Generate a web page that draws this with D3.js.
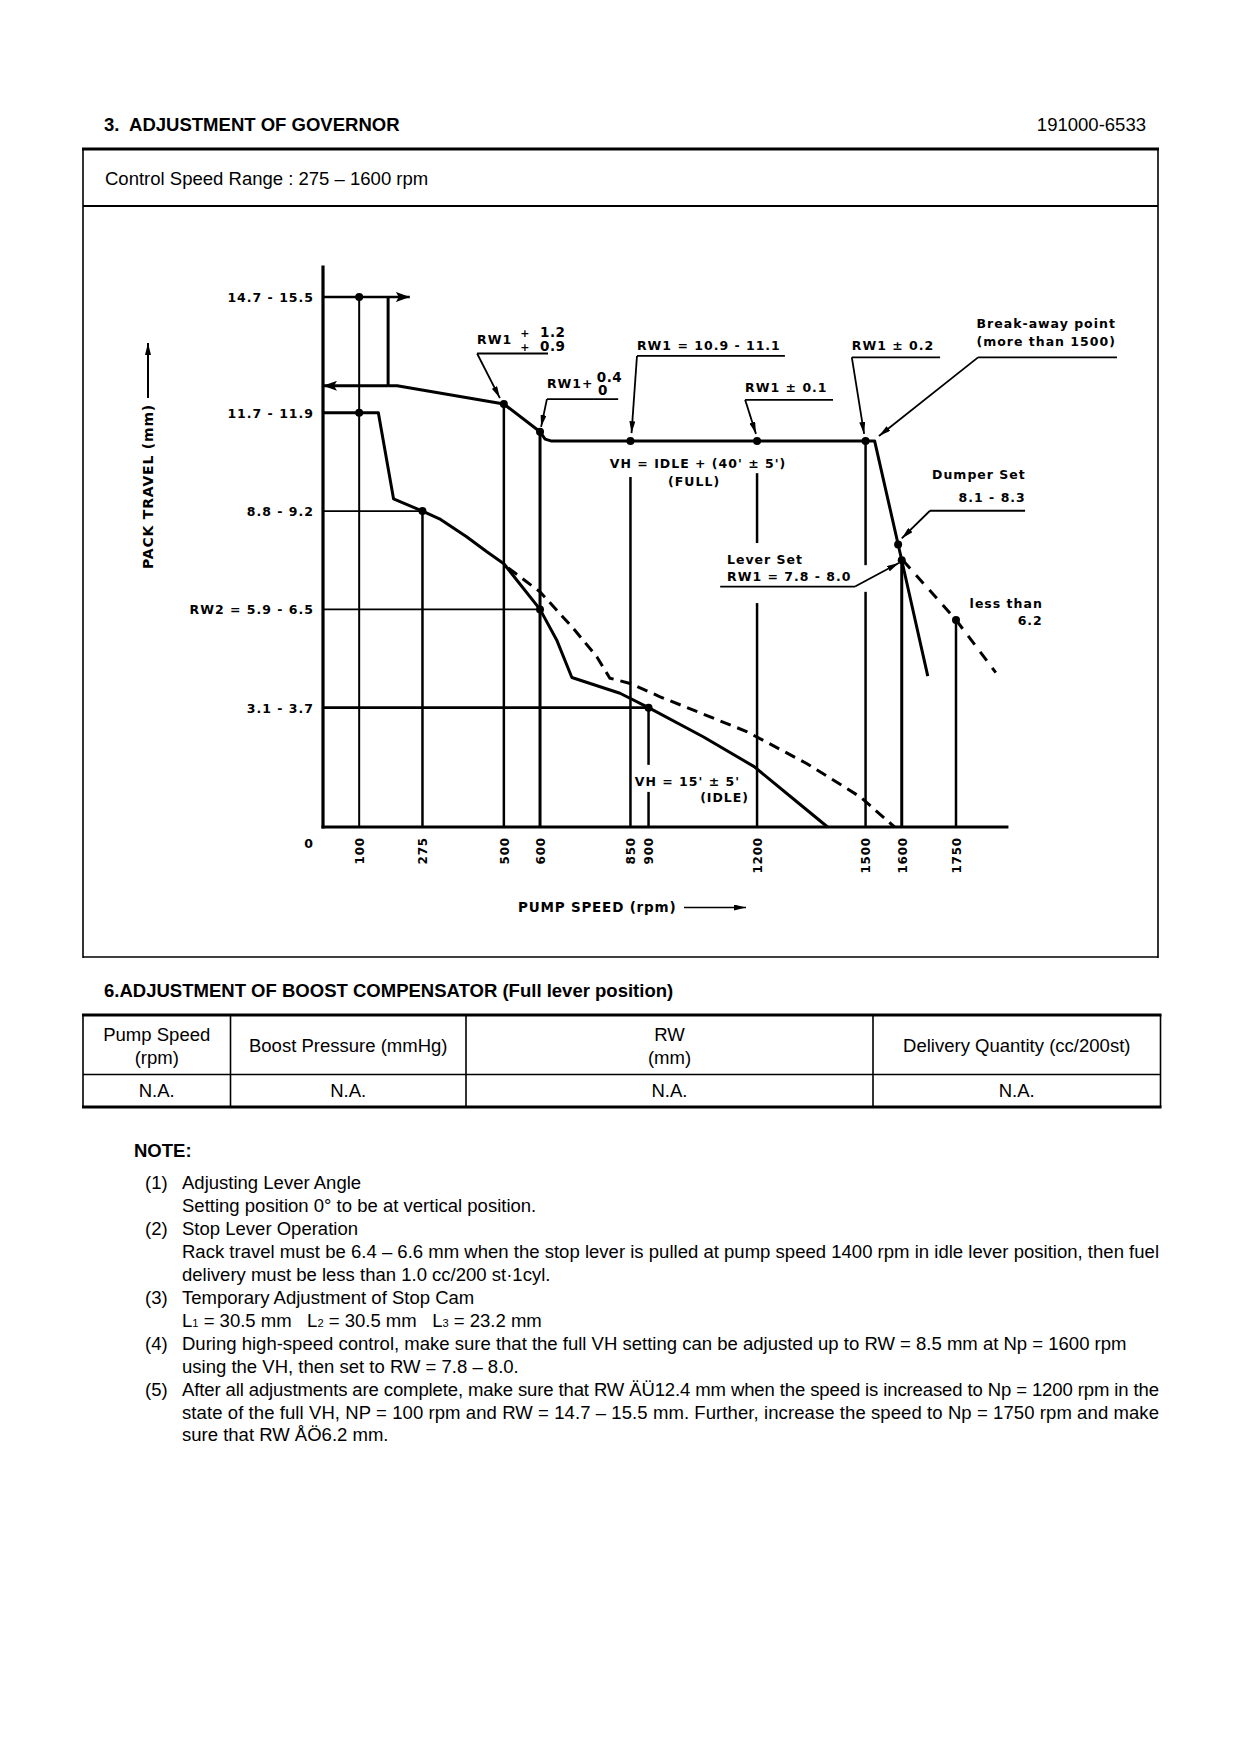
<!DOCTYPE html>
<html><head><meta charset="utf-8">
<script src="https://cdn.jsdelivr.net/npm/d3@7/dist/d3.min.js"></script>
<style>
body{margin:0;background:#fff}
svg{display:block}
.ch{font-family:"DejaVu Sans",Verdana,sans-serif;font-weight:bold;font-size:12.5px;letter-spacing:1px;fill:#000}
.xt{font-family:"DejaVu Sans",Verdana,sans-serif;font-weight:bold;font-size:12px;letter-spacing:0.8px;fill:#000}
.ti{font-family:"DejaVu Sans",Verdana,sans-serif;font-weight:bold;font-size:14px;letter-spacing:0.8px;fill:#000}
</style></head><body>
<script>
// ---------------- DATA ----------------
const xTickValues = [100, 275, 500, 600, 850, 900, 1200, 1500, 1600, 1750];
const yTickValues = [15.1, 11.8, 9.0, 6.2, 3.4, 0];
const yTickLabels = ["14.7 - 15.5", "11.7 - 11.9", "8.8 - 9.2", "RW2 = 5.9 - 6.5", "3.1 - 3.7", "0"];
const xAxisEnd = 1895;
const yAxisTop = 16;

// start (max rack) position line with arrow to the right
const startRackLine = [[0, 15.1], [240, 15.1]];
// stop step from start level down to full lever level
const stopStep = [[180, 15.1], [180, 12.57]];
// return line to the axis (arrow pointing left)
const returnLine = [[180, 12.57], [0, 12.57]];
// full lever (VH full) characteristic
const fullLeverCurve = [[180, 12.57], [205, 12.57], [500, 12.05], [600, 11.26], [614, 11.05], [630, 11.0],
  [1525, 11.0], [1600, 7.6], [1672, 4.3]];
// idle characteristic (solid)
const idleCurve = [[0, 11.8], [153, 11.8], [195, 9.35], [275, 9.0], [322, 8.78], [397, 8.27], [453, 7.84],
  [500, 7.5], [600, 6.2], [646, 5.33], [688, 4.26], [821, 3.81], [900, 3.4], [1051, 2.57], [1192, 1.72],
  [1310, 0.72], [1395, 0]];
// idle characteristic (dashed)
const idleDashed = [[512, 7.38], [600, 6.7], [692, 5.66], [757, 4.85], [793, 4.24], [849, 4.09], [932, 3.71],
  [1171, 2.72], [1337, 1.81], [1485, 0.86], [1580, 0]];
// high-speed dashed
const highDashed = [[1603, 7.6], [1750, 5.9], [1860, 4.4]];

// horizontal reference lines: [mm, rpm end]
const hRefs = [[9.0, 275], [6.2, 600], [3.4, 900]];
// vertical reference segments: [rpm, mm from, mm to]
const vRefs = [[100, 0, 15.1], [275, 0, 9.0], [500, 0, 12.05], [600, 0, 11.26], [850, 0, 9.97],
  [900, 0, 1.0], [900, 1.77, 3.4], [1200, 0, 6.38], [1200, 8.09, 10.08], [1500, 0, 6.7], [1500, 7.46, 11.0],
  [1600, 0, 7.6], [1750, 0, 5.9]];
// marked points
const points = [[100, 15.1], [100, 11.8], [275, 9.0], [500, 12.05], [600, 11.26], [600, 6.2], [900, 3.4],
  [850, 11.0], [1200, 11.0], [1500, 11.0], [1590, 8.05], [1600, 7.6], [1750, 5.9]];

// annotation texts: [text, rpm, mm, anchor]
const annTexts = [
  ["RW1", 426, 13.75, "start"],
  ["RW1+", 619, 12.52, "start"],
  ["RW1 = 10.9 - 11.1", 868, 13.6, "start"],
  ["RW1 ± 0.1", 1167, 12.39, "start"],
  ["RW1 ± 0.2", 1462, 13.6, "start"],
  ["Break-away point", 2192, 14.22, "end"],
  ["(more than 1500)", 2192, 13.70, "end"],
  ["Dumper Set", 1943, 9.91, "end"],
  ["8.1 - 8.3", 1943, 9.26, "end"],
  ["Lever Set", 1117, 7.49, "start"],
  ["RW1 = 7.8 - 8.0", 1117, 7.01, "start"],
  ["less than", 1990, 6.24, "end"],
  ["6.2", 1990, 5.75, "end"],
  ["VH = IDLE + (40' ± 5')", 793, 10.23, "start"],
  ["(FULL)", 954, 9.72, "start"],
  ["VH = 15' ± 5'", 862, 1.17, "start"],
  ["(IDLE)", 1178, 0.70, "end"]
];
// tolerance stacks: [text, rpm, mm]
const tolTexts = [["+", 545, 13.96], ["+", 545, 13.56], ["1.2", 600, 13.96], ["0.9", 600, 13.56],
  ["0.4", 757, 12.69], ["0", 760, 12.32]];
// underlines: [mm, rpm from, rpm to]
const underlines = [[13.49, 426, 622], [12.19, 619, 816], [13.42, 868, 1277], [12.17, 1167, 1410],
  [13.38, 1462, 1706], [13.38, 1811, 2195], [9.01, 1678, 1941], [6.85, 1098, 1471]];
// leader arrows (paths ending at the arrow tip)
const leaders = [
  [[426, 13.49], [489, 12.22]],
  [[619, 12.19], [603, 11.4]],
  [[868, 13.42], [853, 11.22]],
  [[1167, 12.17], [1197, 11.2]],
  [[1462, 13.38], [1496, 11.2]],
  [[1811, 13.38], [1537, 11.14]],
  [[1678, 9.01], [1600, 8.22]],
  [[1471, 6.85], [1592, 7.52]]
];

const tableHeaders = [["Pump Speed", "(rpm)"], ["Boost Pressure (mmHg)"], ["RW", "(mm)"], ["Delivery Quantity (cc/200st)"]];
const tableValues = ["N.A.", "N.A.", "N.A.", "N.A."];

const notes = [
  ["(1)", "Adjusting Lever Angle", 0],
  ["", "Setting position 0° to be at vertical position.", 0],
  ["(2)", "Stop Lever Operation", 0],
  ["", "Rack travel must be 6.4 – 6.6 mm when the stop lever is pulled at pump speed 1400 rpm in idle lever position, then fuel", 1],
  ["", "delivery must be less than 1.0 cc/200 st·1cyl.", 0],
  ["(3)", "Temporary Adjustment of Stop Cam", 0],
  ["", "L", 2],
  ["(4)", "During high-speed control, make sure that the full VH setting can be adjusted up to RW = 8.5 mm at Np = 1600 rpm", 0],
  ["", "using the VH, then set to RW = 7.8 – 8.0.", 0],
  ["(5)", "After all adjustments are complete, make sure that RW ÄÜ12.4 mm when the speed is increased to Np = 1200 rpm in the", 1],
  ["", "state of the full VH, NP = 100 rpm and RW = 14.7 – 15.5 mm. Further, increase the speed to Np = 1750 rpm and make", 1],
  ["", "sure that RW ÅÖ6.2 mm.", 0]
];
const camLengths = [["1", "30.5"], ["2", "30.5"], ["3", "23.2"]];

// ---------------- DRAW ----------------
const W = 1240, H = 1754;
const svg = d3.select("body").append("svg").attr("width", W).attr("height", H);
svg.append("rect").attr("width", W).attr("height", H).attr("fill", "#fff");

const pageFont = '"Liberation Sans", Arial, Helvetica, sans-serif';
// calibrate page font size on the justified reference line
const probe = svg.append("text").style("font-family", pageFont).style("font-size", "18px").text(notes[3][1]);
const natural = probe.node().getComputedTextLength();
probe.remove();
let fs = 18 * 976 / natural;
fs = Math.max(15, Math.min(20, fs));

function ptext(t, px, py, opts = {}) {
  const el = svg.append("text").attr("x", px).attr("y", py)
    .style("font-family", pageFont).style("font-size", (opts.size || fs) + "px")
    .style("white-space", "pre").attr("fill", "#000")
    .attr("text-anchor", opts.anchor || "start").text(t);
  if (opts.bold) el.style("font-weight", "bold");
  return el;
}
function hline(x1, x2, yy, w) { svg.append("line").attr("x1", x1).attr("x2", x2).attr("y1", yy).attr("y2", yy).attr("stroke", "#000").attr("stroke-width", w); }
function vline(xx, y1, y2, w) { svg.append("line").attr("x1", xx).attr("x2", xx).attr("y1", y1).attr("y2", y2).attr("stroke", "#000").attr("stroke-width", w); }

// header
ptext("3.  ADJUSTMENT OF GOVERNOR", 104, 131, { bold: true });
ptext("191000-6533", 1146, 131, { anchor: "end" });

// governor box
hline(82, 1159, 149, 3);
hline(83, 1158, 206, 2);
hline(83, 1158, 957, 1.6);
vline(83, 148, 958, 1.6);
vline(1158, 148, 958, 1.6);
ptext("Control Speed Range : 275 – 1600 rpm", 105, 185);

// markers
const defs = svg.append("defs");
defs.append("marker").attr("id", "arr").attr("viewBox", "0 0 12 6").attr("refX", 12).attr("refY", 3)
  .attr("markerWidth", 12).attr("markerHeight", 6).attr("markerUnits", "userSpaceOnUse").attr("orient", "auto")
  .append("path").attr("d", "M0,0L12,3L0,6Z").attr("fill", "#000");
defs.append("marker").attr("id", "arrBig").attr("viewBox", "0 0 14 10").attr("refX", 14).attr("refY", 5)
  .attr("markerWidth", 14).attr("markerHeight", 10).attr("markerUnits", "userSpaceOnUse").attr("orient", "auto")
  .append("path").attr("d", "M0,0L14,5L0,10L3,5Z").attr("fill", "#000");

// scales
const x = d3.scaleLinear().domain([0, 1750]).range([323, 956]);
const y = d3.scaleLinear().domain([0, 16]).range([827, 265.4]);
const line = d3.line().x(d => x(d[0])).y(d => y(d[1]));

const g = svg.append("g");

// reference lines
hRefs.forEach(d => g.append("line").attr("x1", x(0)).attr("x2", x(d[1])).attr("y1", y(d[0])).attr("y2", y(d[0]))
  .attr("stroke", "#000").attr("stroke-width", d[0] === 3.4 ? 2.6 : 1.8));
vRefs.forEach(d => g.append("line").attr("x1", x(d[0])).attr("x2", x(d[0])).attr("y1", y(d[1])).attr("y2", y(d[2]))
  .attr("stroke", "#000").attr("stroke-width", d[0] === 100 ? 2 : (d[0] === 600 || d[0] === 1600 ? 3 : 2.5)));

// curves
g.append("path").attr("d", line(startRackLine)).attr("fill", "none").attr("stroke", "#000").attr("stroke-width", 2.6).attr("marker-end", "url(#arrBig)");
g.append("path").attr("d", line(stopStep)).attr("fill", "none").attr("stroke", "#000").attr("stroke-width", 3);
g.append("path").attr("d", line(returnLine)).attr("fill", "none").attr("stroke", "#000").attr("stroke-width", 3).attr("marker-end", "url(#arrBig)");
g.append("path").attr("d", line(fullLeverCurve)).attr("fill", "none").attr("stroke", "#000").attr("stroke-width", 3).attr("stroke-linejoin", "round");
g.append("path").attr("d", line(idleCurve)).attr("fill", "none").attr("stroke", "#000").attr("stroke-width", 3).attr("stroke-linejoin", "round");
g.append("path").attr("d", line(idleDashed)).attr("fill", "none").attr("stroke", "#000").attr("stroke-width", 3).attr("stroke-dasharray", "11,7");
g.append("path").attr("d", line(highDashed)).attr("fill", "none").attr("stroke", "#000").attr("stroke-width", 3).attr("stroke-dasharray", "11,9");

// axes lines
g.append("line").attr("x1", x(0)).attr("x2", x(0)).attr("y1", y(0) + 1.5).attr("y2", y(yAxisTop)).attr("stroke", "#000").attr("stroke-width", 3.2);
g.append("line").attr("x1", x(0) - 1.5).attr("x2", x(xAxisEnd)).attr("y1", y(0)).attr("y2", y(0)).attr("stroke", "#000").attr("stroke-width", 3.2);

// points
g.selectAll("circle.pt").data(points).join("circle").attr("class", "pt")
  .attr("cx", d => x(d[0])).attr("cy", d => y(d[1])).attr("r", 4).attr("fill", "#000");

// x axis ticks
const gx = svg.append("g").attr("transform", `translate(0,${y(0)})`)
  .call(d3.axisBottom(x).tickValues(xTickValues).tickSize(0).tickFormat(d3.format("d")));
gx.select(".domain").remove();
gx.attr("font-size", null).attr("font-family", null);
gx.selectAll("text").attr("class", "xt").attr("transform", "rotate(-90)")
  .attr("text-anchor", "end").attr("x", -10).attr("y", 0).attr("dy", "0.36em");

// y axis ticks
const gy = svg.append("g").attr("transform", `translate(${x(0)},0)`)
  .call(d3.axisLeft(y).tickValues(yTickValues).tickSize(0).tickPadding(9).tickFormat((d, i) => yTickLabels[i]));
gy.select(".domain").remove();
gy.attr("font-size", null).attr("font-family", null);
gy.selectAll("text").attr("class", "ch").attr("dy", d => d === 0 ? "1.6em" : "0.36em");

// annotations
annTexts.forEach(d => svg.append("text").attr("class", "ch").attr("x", x(d[1])).attr("y", y(d[2]))
  .attr("text-anchor", d[3]).text(d[0]));
tolTexts.forEach(d => svg.append("text").attr("class", "ch").style("font-size", d[0] === "+" ? "11px" : "13.5px")
  .style("letter-spacing", "0.5px").attr("x", x(d[1])).attr("y", y(d[2])).text(d[0]));
underlines.forEach(d => svg.append("line").attr("x1", x(d[1])).attr("x2", x(d[2])).attr("y1", y(d[0])).attr("y2", y(d[0]))
  .attr("stroke", "#000").attr("stroke-width", 1.8));
leaders.forEach(d => svg.append("path").attr("d", line(d)).attr("fill", "none").attr("stroke", "#000")
  .attr("stroke-width", 1.8).attr("marker-end", "url(#arr)"));

// axis titles
svg.append("text").attr("class", "ti").attr("transform", "translate(148,569) rotate(-90)")
  .attr("dy", "0.36em").text("PACK TRAVEL (mm)");
svg.append("line").attr("x1", 148).attr("x2", 148).attr("y1", 398).attr("y2", 343).attr("stroke", "#000")
  .attr("stroke-width", 2).attr("marker-end", "url(#arr)");
svg.append("text").attr("class", "ti").style("font-size", "13.5px").attr("x", 518).attr("y", 912).text("PUMP SPEED (rpm)");
svg.append("line").attr("x1", 684).attr("x2", 746).attr("y1", 907.5).attr("y2", 907.5).attr("stroke", "#000")
  .attr("stroke-width", 1.6).attr("marker-end", "url(#arr)");

// boost compensator
ptext("6.ADJUSTMENT OF BOOST COMPENSATOR (Full lever position)", 104, 997, { bold: true });
const colEdges = [83, 230.5, 466, 873, 1160.5];
hline(82, 1161.5, 1015, 3);
hline(83, 1160.5, 1074.5, 1.6);
hline(82, 1161.5, 1107, 3);
colEdges.forEach(cx => vline(cx, 1015, 1107, 1.6));
tableHeaders.forEach((h, i) => {
  const cx = (colEdges[i] + colEdges[i + 1]) / 2;
  if (h.length === 2) { ptext(h[0], cx, 1041, { anchor: "middle" }); ptext(h[1], cx, 1064, { anchor: "middle" }); }
  else ptext(h[0], cx, 1052, { anchor: "middle" });
  ptext(tableValues[i], cx, 1097, { anchor: "middle" });
});

// notes
ptext("NOTE:", 134, 1157, { bold: true });
notes.forEach((n, i) => {
  const by = 1189 + i * 22.95;
  if (n[0]) ptext(n[0], 145, by);
  if (n[2] === 2) {
    const t = svg.append("text").attr("x", 182).attr("y", by).style("white-space", "pre")
      .style("font-family", pageFont).style("font-size", fs + "px").attr("fill", "#000");
    camLengths.forEach((c, j) => {
      t.append("tspan").text((j ? "   " : "") + "L");
      t.append("tspan").style("font-size", (fs * 0.6) + "px").text(c[0]);
      t.append("tspan").text(" = " + c[1] + " mm");
    });
  } else {
    const t = ptext(n[1], 182, by);
    if (n[2] === 1) t.attr("textLength", 977).attr("lengthAdjust", "spacing");
  }
});
</script>
</body></html>
